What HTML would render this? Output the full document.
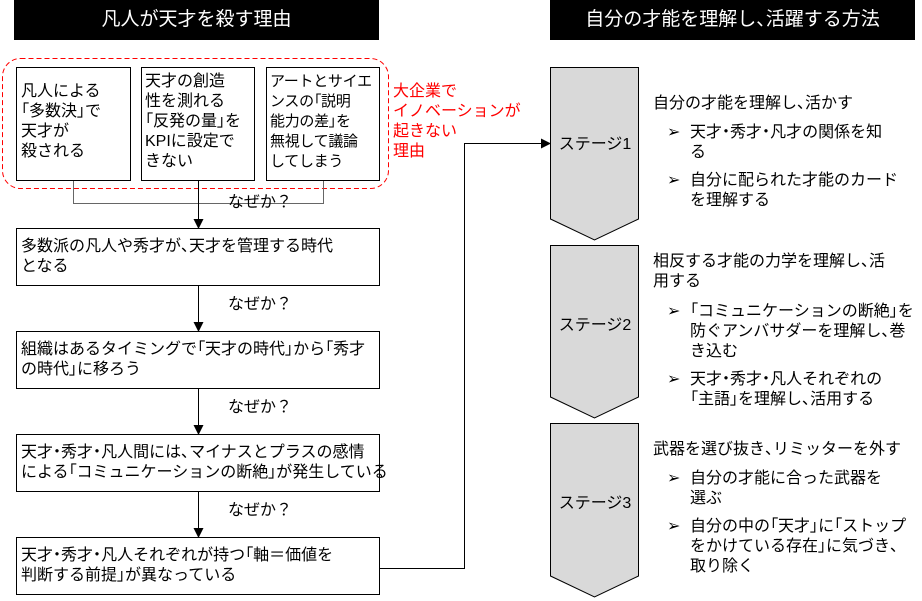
<!DOCTYPE html>
<html><head><meta charset="utf-8"><style>
body{margin:0;width:922px;height:601px;background:#fff;position:relative;overflow:hidden;font-family:"Liberation Sans","Noto Sans CJK JP",sans-serif;color:#000}
.a{position:absolute;font-size:16px;line-height:20px;white-space:nowrap}
.p{font-feature-settings:"palt";}
.t{position:absolute;background:#000;color:#fff;font-size:19px;text-align:center;line-height:40px;top:0;height:40px}
svg{position:absolute;left:0;top:0}
</style></head><body>
<svg width="922" height="601">
<defs><marker id="ar" markerWidth="10" markerHeight="10" refX="9" refY="5" orient="auto" markerUnits="userSpaceOnUse"><path d="M0,0 L10,5 L0,10z" fill="#000"/></marker></defs>
<rect x="2.5" y="58.5" width="386" height="130" rx="18" fill="none" stroke="#f00" stroke-dasharray="5,3"/>
<g fill="#fff" stroke="#000">
<rect x="16.5" y="67.5" width="114" height="113"/>
<rect x="141.5" y="67.5" width="113" height="113"/>
<rect x="266.5" y="67.5" width="113" height="113"/>
<rect x="16.5" y="228.5" width="363" height="57"/>
<rect x="16.5" y="331.5" width="363" height="57"/>
<rect x="16.5" y="434.5" width="363" height="57"/>
<rect x="16.5" y="537.5" width="363" height="57"/>
</g>
<g fill="none" stroke="#000">
<polyline points="73.5,181 73.5,203.5 323.5,203.5 323.5,181" stroke="#666"/>
<line x1="198.5" y1="181" x2="198.5" y2="228" marker-end="url(#ar)"/>
<line x1="198.5" y1="286" x2="198.5" y2="331" marker-end="url(#ar)"/>
<line x1="198.5" y1="389" x2="198.5" y2="434" marker-end="url(#ar)"/>
<line x1="198.5" y1="492" x2="198.5" y2="537" marker-end="url(#ar)"/>
<polyline points="380,568.5 464.5,568.5 464.5,143.5 550,143.5" marker-end="url(#ar)"/>
</g>
<g fill="#d9d9d9" stroke="#000">
<path d="M550.5,67.5 H638.5 V219 L594.5,240 L550.5,219Z"/>
<path d="M550.5,245.5 H638.5 V397 L594.5,418 L550.5,397Z"/>
<path d="M550.5,423.5 H638.5 V576 L594.5,597 L550.5,576Z"/>
</g>
</svg>
<div class="t" style="left:14px;width:365px">凡人が天才を殺す理由</div>
<div class="t" style="left:550px;width:365px">自分の才能を理解し<span class="p">、</span>活躍する方法</div>
<div class="a" style="left:21px;top:82px">凡人による<br><span class="p">「</span>多数決<span class="p">」</span>で<br>天才が<br>殺される</div>
<div class="a" style="left:145px;top:72px">天才の創造<br>性を測れる<br><span class="p">「</span>反発の量<span class="p">」</span>を<br>KPIに設定で<br>きない</div>
<div class="a" style="left:270px;top:72px;font-size:15px;letter-spacing:-0.3px">アートとサイエ<br>ンスの<span class="p">「</span>説明<br>能力の差<span class="p">」</span>を<br>無視して議論<br>してしまう</div>
<div class="a" style="left:393px;top:82px;color:#f00">大企業で<br>イノベーションが<br>起きない<br>理由</div>
<div class="a" style="left:228px;top:193px">なぜか？</div>
<div class="a" style="left:21px;top:237px">多数派の凡人や秀才が<span class="p">、</span>天才を管理する時代<br>となる</div>
<div class="a" style="left:228px;top:295px">なぜか？</div>
<div class="a" style="left:21px;top:340px">組織はあるタイミングで<span class="p">「</span>天才の時代<span class="p">」</span>から<span class="p">「</span>秀才<br>の時代<span class="p">」</span>に移ろう</div>
<div class="a" style="left:228px;top:398px">なぜか？</div>
<div class="a" style="left:21px;top:443px">天才<span class="p">・</span>秀才<span class="p">・</span>凡人間には<span class="p">、</span>マイナスとプラスの感情<br>による<span class="p">「</span>コミュニケーションの断絶<span class="p">」</span>が発生している</div>
<div class="a" style="left:228px;top:501px">なぜか？</div>
<div class="a" style="left:21px;top:546px">天才<span class="p">・</span>秀才<span class="p">・</span>凡人それぞれが持つ<span class="p">「</span>軸＝価値を<br>判断する前提<span class="p">」</span>が異なっている</div>
<div class="a" style="left:555px;top:135px;width:80px;text-align:center">ステージ1</div>
<div class="a" style="left:555px;top:316px;width:80px;text-align:center">ステージ2</div>
<div class="a" style="left:555px;top:494px;width:80px;text-align:center">ステージ3</div>
<div class="a" style="left:653px;top:94px">自分の才能を理解し<span class="p">、</span>活かす</div>
<div class="a" style="left:667px;top:123px">➢</div><div class="a" style="left:690px;top:123px">天才<span class="p">・</span>秀才<span class="p">・</span>凡才の関係を知<br>る</div>
<div class="a" style="left:667px;top:171px">➢</div><div class="a" style="left:690px;top:171px">自分に配られた才能のカード<br>を理解する</div>
<div class="a" style="left:653px;top:252px">相反する才能の力学を理解し<span class="p">、</span>活<br>用する</div>
<div class="a" style="left:667px;top:302px">➢</div><div class="a" style="left:690px;top:302px"><span class="p">「</span>コミュニケーションの断絶<span class="p">」</span>を<br>防ぐアンバサダーを理解し<span class="p">、</span>巻<br>き込む</div>
<div class="a" style="left:667px;top:370px">➢</div><div class="a" style="left:690px;top:370px">天才<span class="p">・</span>秀才<span class="p">・</span>凡人それぞれの<br><span class="p">「</span>主語<span class="p">」</span>を理解し<span class="p">、</span>活用する</div>
<div class="a" style="left:653px;top:440px">武器を選び抜き<span class="p">、</span>リミッターを外す</div>
<div class="a" style="left:667px;top:469px">➢</div><div class="a" style="left:690px;top:469px">自分の才能に合った武器を<br>選ぶ</div>
<div class="a" style="left:667px;top:517px">➢</div><div class="a" style="left:690px;top:517px">自分の中の<span class="p">「</span>天才<span class="p">」</span>に<span class="p">「</span>ストップ<br>をかけている存在<span class="p">」</span>に気づき<span class="p">、</span><br>取り除く</div>
</body></html>
